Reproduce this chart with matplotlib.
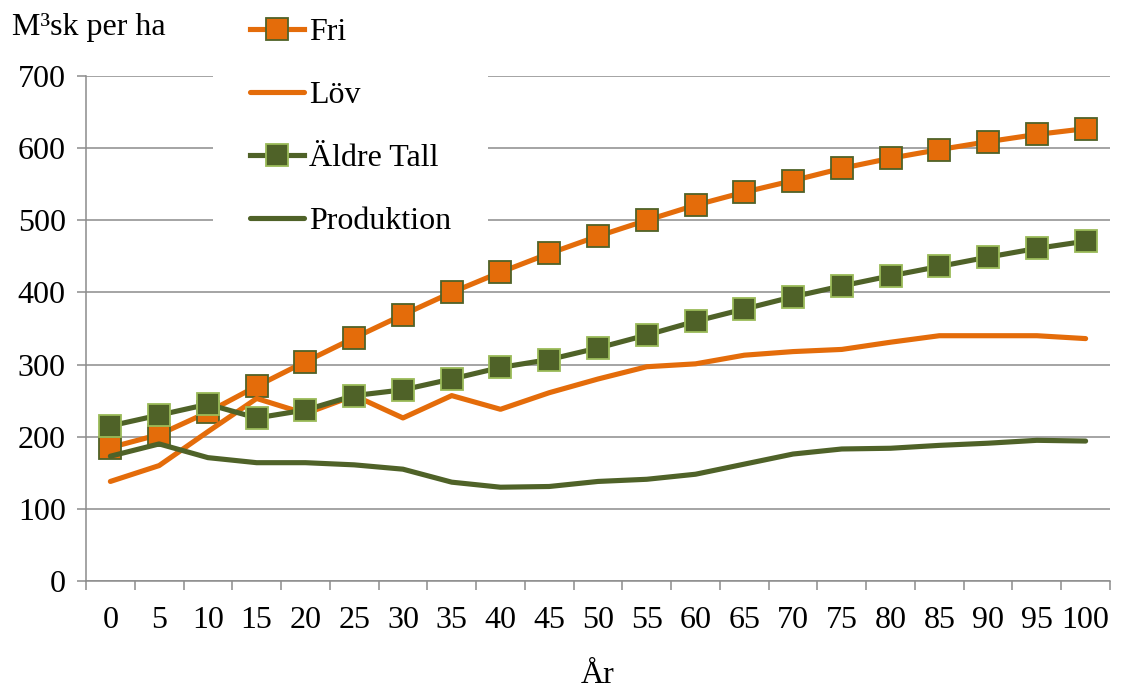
import numpy as np
import matplotlib
matplotlib.use("Agg")
import matplotlib.pyplot as plt
from matplotlib.ticker import FixedLocator

# Years (x categories)
years = [0, 5, 10, 15, 20, 25, 30, 35, 40, 45, 50, 55, 60, 65, 70, 75, 80, 85, 90, 95, 100]

# Standing volume, m3sk per ha
fri = [185, 203, 234, 270, 304, 337, 369, 400, 428, 454, 478, 500, 521, 539, 555, 572, 586, 598, 609, 619, 627]
lov = [138, 160, 207, 253, 232, 257, 226, 257, 238, 261, 280, 297, 301, 313, 318, 321, 331, 340, 340, 340, 336]
aldre_tall = [215, 230, 245, 226, 237, 257, 265, 280, 296, 307, 323, 341, 360, 377, 394, 409, 423, 436, 449, 461, 471]
produktion = [173, 190, 171, 164, 164, 161, 155, 137, 130, 131, 138, 141, 148, 162, 176, 183, 184, 188, 191, 195, 194]

ORANGE = "#E46C0A"
DARK_GREEN = "#4F6228"
LIGHT_GREEN = "#9BBB59"
GRID = "#8C8C8C"

plt.rcParams["font.family"] = ["Liberation Serif", "DejaVu Serif"]
FS = 23

fig = plt.figure(figsize=(11.22, 6.88), dpi=100)
ax = fig.add_axes([86 / 1122, 1 - 581 / 688, 1024 / 1122, 505 / 688])

x = np.arange(len(years))
lw = 3.7
ax.plot(x, fri, color=ORANGE, lw=lw, marker="s", ms=15.5, mfc=ORANGE,
        mec=DARK_GREEN, mew=1.3, label="Fri", zorder=3)
ax.plot(x, lov, color=ORANGE, lw=lw, solid_capstyle="round", label="Löv", zorder=3)
ax.plot(x, aldre_tall, color=DARK_GREEN, lw=lw, marker="s", ms=15.5, mfc=DARK_GREEN,
        mec=LIGHT_GREEN, mew=1.3, label="Äldre Tall", zorder=4)
ax.plot(x, produktion, color=DARK_GREEN, lw=lw, solid_capstyle="round",
        label="Produktion", zorder=3)

ax.set_xlim(-0.5, len(years) - 0.5)
ax.set_ylim(0, 700)
ax.set_yticks(range(0, 701, 100))
ax.yaxis.grid(True, color=GRID, lw=1.1)
ax.set_axisbelow(True)

# labels centred on categories, tick marks on category boundaries
ax.set_xticks(x)
ax.set_xticklabels([str(y) for y in years])
ax.xaxis.set_minor_locator(FixedLocator(np.arange(-0.5, len(years), 1.0)))
ax.tick_params(axis="x", which="major", length=0, labelsize=FS, pad=18)
ax.tick_params(axis="x", which="minor", length=6.5, width=1.1, color=GRID, direction="out")
ax.tick_params(axis="y", length=6.5, width=1.1, color=GRID, labelsize=FS, pad=8)

for side in ("top", "right"):
    ax.spines[side].set_visible(False)
for side in ("left", "bottom"):
    ax.spines[side].set_color(GRID)
    ax.spines[side].set_linewidth(1.1)

fig.text(12 / 1122, 1 - 27 / 688, "M³sk per ha", fontsize=FS, va="center", ha="left")
fig.text(598 / 1122, 1 - 683 / 688, "År", fontsize=FS, va="baseline", ha="center")

leg = ax.legend(loc="upper left", bbox_to_anchor=(213 / 1122, 1 + 19 / 688),
                bbox_transform=fig.transFigure, fontsize=FS, frameon=True,
                fancybox=False, edgecolor="none", facecolor="white", framealpha=1,
                handlelength=1.7, handletextpad=0.15, labelspacing=1.05,
                borderpad=1.15, borderaxespad=0)
leg.get_frame().set_linewidth(0)

fig.savefig("out.png", dpi=100)
